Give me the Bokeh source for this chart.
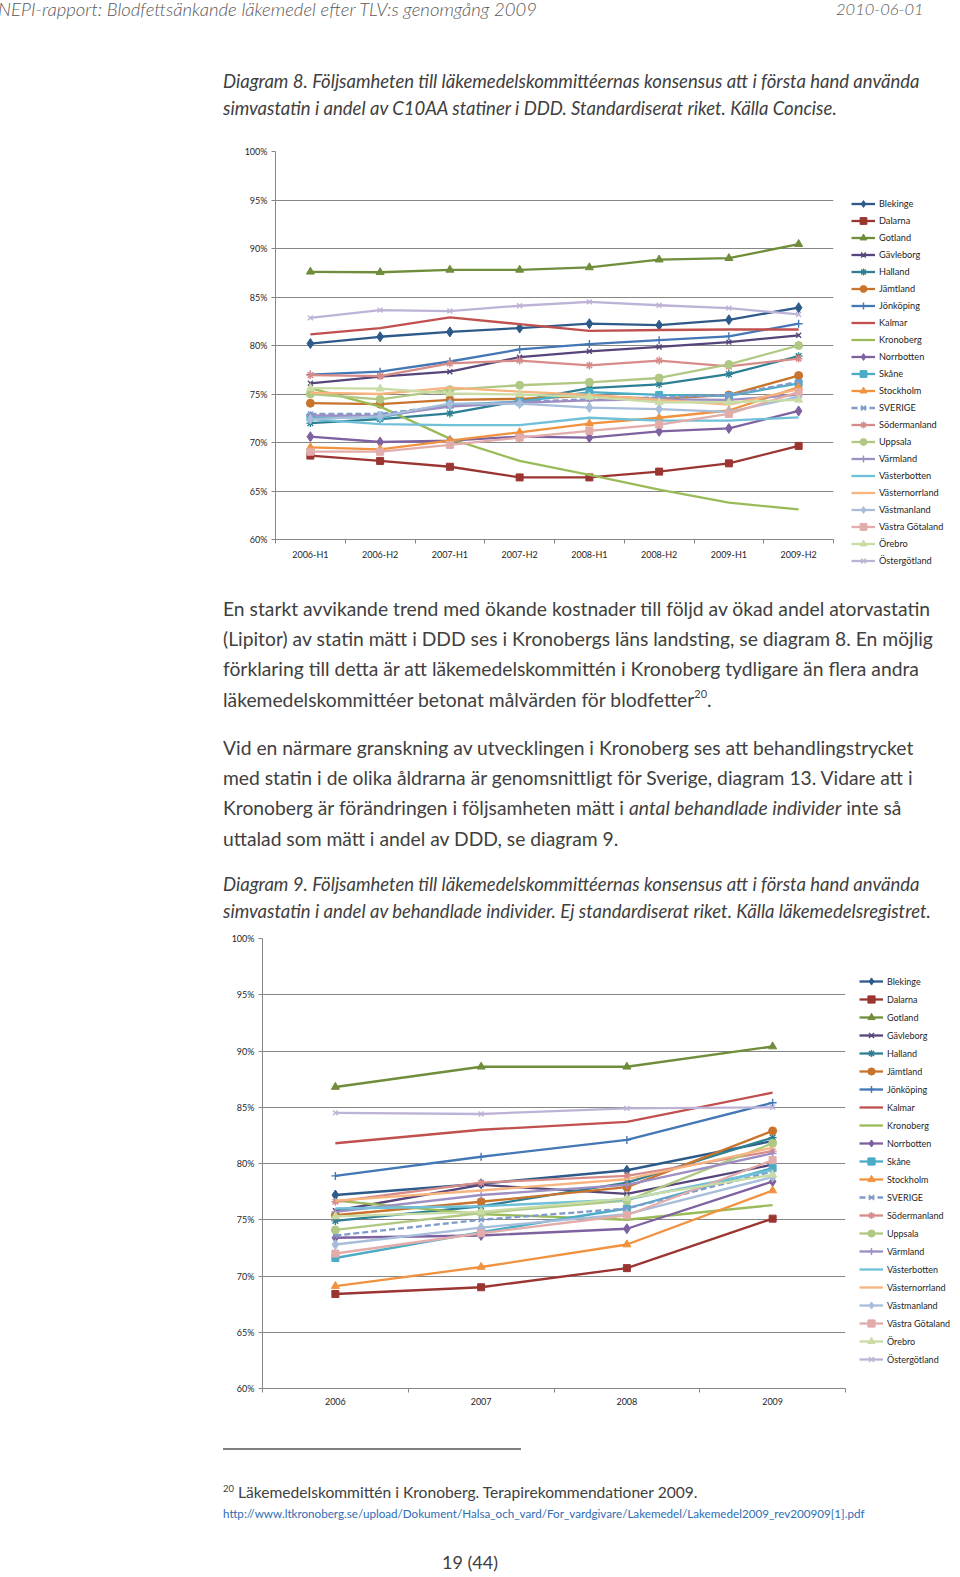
from bokeh.plotting import figure
from bokeh.models import Range1d, FixedTicker, NumeralTickFormatter, Legend, LegendItem, Div
from bokeh.layouts import column
from bokeh.embed import file_html
from bokeh.resources import INLINE

# ---------------- data ----------------
periods = ["2006-H1", "2006-H2", "2007-H1", "2007-H2", "2008-H1", "2008-H2", "2009-H1", "2009-H2"]
years = ["2006", "2007", "2008", "2009"]
counties = ["Blekinge", "Dalarna", "Gotland", "Gävleborg", "Halland", "Jämtland", "Jönköping",
            "Kalmar", "Kronoberg", "Norrbotten", "Skåne", "Stockholm", "SVERIGE", "Södermanland",
            "Uppsala", "Värmland", "Västerbotten", "Västernorrland", "Västmanland",
            "Västra Götaland", "Örebro", "Östergötland"]

# Diagram 8: share of DDD (%), per half-year
d8_blekinge = [80.2, 80.9, 81.4, 81.8, 82.25, 82.1, 82.65, 83.9]
d8_dalarna = [68.65, 68.1, 67.5, 66.4, 66.4, 67.0, 67.85, 69.65]
d8_gotland = [87.6, 87.55, 87.8, 87.8, 88.05, 88.85, 89.0, 90.45]
d8_gavleborg = [76.1, 76.8, 77.3, 78.8, 79.4, 79.85, 80.35, 81.05]
d8_halland = [72.0, 72.4, 73.0, 74.3, 75.6, 76.0, 77.05, 78.9]
d8_jamtland = [74.05, 73.95, 74.4, 74.5, 74.8, 74.5, 74.9, 76.9]
d8_jonkoping = [77.0, 77.3, 78.35, 79.6, 80.15, 80.55, 80.95, 82.25]
d8_kalmar = [81.15, 81.8, 82.9, 82.2, 81.5, 81.6, 81.65, 81.65]
d8_kronoberg = [75.6, 73.7, 70.4, 68.1, 66.65, 65.15, 63.8, 63.1]
d8_norrbotten = [70.6, 70.05, 70.2, 70.6, 70.5, 71.15, 71.45, 73.25]
d8_skane = [72.6, 72.6, 73.9, 74.2, 75.2, 74.9, 74.8, 76.1]
d8_stockholm = [69.5, 69.3, 70.2, 71.05, 71.95, 72.55, 73.3, 75.7]
d8_sverige = [72.95, 72.95, 73.8, 74.2, 74.45, 74.65, 74.9, 76.25]
d8_sodermanland = [76.95, 76.85, 78.15, 78.45, 77.95, 78.45, 77.85, 78.65]
d8_uppsala = [75.0, 74.45, 75.45, 75.9, 76.2, 76.65, 78.05, 80.0]
d8_varmland = [72.8, 72.75, 73.7, 74.1, 74.35, 74.45, 74.4, 74.9]
d8_vasterbotten = [72.4, 71.9, 71.8, 71.8, 72.55, 72.25, 72.25, 72.6]
d8_vasternorrland = [75.15, 75.0, 75.65, 75.25, 74.9, 74.4, 73.9, 75.5]
d8_vastmanland = [72.4, 72.7, 74.0, 74.0, 73.6, 73.45, 73.15, 74.7]
d8_vastra_gotaland = [69.05, 69.05, 69.75, 70.5, 71.2, 71.85, 72.95, 75.2]
d8_orebro = [75.6, 75.55, 75.05, 74.95, 74.7, 74.15, 74.15, 74.4]
d8_ostergotland = [82.85, 83.65, 83.55, 84.1, 84.5, 84.15, 83.85, 83.2]

# Diagram 9: share of treated individuals (%), per year
d9_blekinge = [77.2, 78.2, 79.4, 82.0]
d9_dalarna = [68.4, 69.0, 70.7, 75.1]
d9_gotland = [86.8, 88.6, 88.6, 90.4]
d9_gavleborg = [75.8, 78.1, 77.3, 79.9]
d9_halland = [74.9, 76.2, 78.3, 82.3]
d9_jamtland = [75.4, 76.6, 77.9, 82.9]
d9_jonkoping = [78.9, 80.6, 82.1, 85.4]
d9_kalmar = [81.8, 83.0, 83.7, 86.3]
d9_kronoberg = [76.7, 75.5, 75.0, 76.3]
d9_norrbotten = [73.4, 73.6, 74.2, 78.4]
d9_skane = [71.6, 73.9, 76.0, 79.6]
d9_stockholm = [69.1, 70.8, 72.8, 77.6]
d9_sverige = [73.6, 75.0, 76.0, 79.3]
d9_sodermanland = [76.6, 78.3, 78.9, 81.1]
d9_uppsala = [74.1, 75.6, 76.7, 81.8]
d9_varmland = [75.7, 77.2, 78.1, 80.9]
d9_vasterbotten = [76.0, 76.2, 76.8, 79.4]
d9_vasternorrland = [76.7, 77.6, 78.6, 81.4]
d9_vastmanland = [72.8, 74.3, 75.5, 78.8]
d9_vastra_gotaland = [72.0, 73.8, 75.4, 80.3]
d9_orebro = [75.3, 75.7, 76.9, 79.0]
d9_ostergotland = [84.5, 84.4, 84.9, 85.0]

y_ticks = [0.60, 0.65, 0.70, 0.75, 0.80, 0.85, 0.90, 0.95, 1.00]

d8 = dict(zip(counties, [d8_blekinge, d8_dalarna, d8_gotland, d8_gavleborg, d8_halland, d8_jamtland,
                         d8_jonkoping, d8_kalmar, d8_kronoberg, d8_norrbotten, d8_skane, d8_stockholm,
                         d8_sverige, d8_sodermanland, d8_uppsala, d8_varmland, d8_vasterbotten,
                         d8_vasternorrland, d8_vastmanland, d8_vastra_gotaland, d8_orebro, d8_ostergotland]))
d9 = dict(zip(counties, [d9_blekinge, d9_dalarna, d9_gotland, d9_gavleborg, d9_halland, d9_jamtland,
                         d9_jonkoping, d9_kalmar, d9_kronoberg, d9_norrbotten, d9_skane, d9_stockholm,
                         d9_sverige, d9_sodermanland, d9_uppsala, d9_varmland, d9_vasterbotten,
                         d9_vasternorrland, d9_vastmanland, d9_vastra_gotaland, d9_orebro, d9_ostergotland]))

# ---------------- styles ----------------
colors = {
    "Blekinge": "#2E5A8A", "Dalarna": "#9B3532", "Gotland": "#6F8D3A", "Gävleborg": "#55457A",
    "Halland": "#2D8094", "Jämtland": "#C8742C", "Jönköping": "#4477B5", "Kalmar": "#C0504D",
    "Kronoberg": "#9BBB59", "Norrbotten": "#7E619F", "Skåne": "#4BACC6", "Stockholm": "#F0923F",
    "SVERIGE": "#7F9ACB", "Södermanland": "#D78C89", "Uppsala": "#B0C884", "Värmland": "#9D8FC2",
    "Västerbotten": "#6FC0D8", "Västernorrland": "#F8B47E", "Västmanland": "#A7BDDA",
    "Västra Götaland": "#E2ACAA", "Örebro": "#CADCA5", "Östergötland": "#BDB3D6",
}
markers = {
    "Blekinge": "diamond", "Dalarna": "square", "Gotland": "triangle", "Gävleborg": "x",
    "Halland": "asterisk", "Jämtland": "circle", "Jönköping": "cross", "Kalmar": None,
    "Kronoberg": None, "Norrbotten": "diamond", "Skåne": "square", "Stockholm": "triangle",
    "SVERIGE": "x", "Södermanland": "asterisk", "Uppsala": "circle", "Värmland": "cross",
    "Västerbotten": None, "Västernorrland": None, "Västmanland": "diamond",
    "Västra Götaland": "square", "Örebro": "triangle", "Östergötland": "x",
}
msize = {"diamond": 10, "square": 7, "triangle": 8, "x": 7, "asterisk": 8, "circle": 8, "cross": 8}
FONT = "Lato"
AX = "#868686"
TXT = "#262626"
PAGE_W = 944


def make_chart(cats, data, fw, fh, bl, br, bt, bb, lvx, lvy, item_h, glyph_w, leg_fs):
    xs = list(range(len(cats)))
    p = figure(frame_width=fw, frame_height=fh,
               min_border_left=bl, min_border_right=br,
               min_border_top=bt, min_border_bottom=bb,
               x_range=Range1d(-0.5, len(cats) - 0.5), y_range=Range1d(0.60, 1.00),
               toolbar_location=None, tools="", output_backend="svg")
    p.outline_line_color = None
    p.xgrid.grid_line_color = None
    p.ygrid.ticker = FixedTicker(ticks=y_ticks)
    p.ygrid.grid_line_color = AX
    p.ygrid.grid_line_width = 1

    p.yaxis.ticker = FixedTicker(ticks=y_ticks)
    p.yaxis.formatter = NumeralTickFormatter(format="0%")
    p.yaxis.axis_line_color = AX
    p.yaxis.major_tick_line_color = AX
    p.yaxis.major_tick_out = 4
    p.yaxis.major_tick_in = 0
    p.yaxis.minor_tick_line_color = None
    p.yaxis.major_label_standoff = 4

    p.xaxis.ticker = FixedTicker(ticks=xs, minor_ticks=[i - 0.5 for i in range(len(cats) + 1)])
    p.xaxis.major_label_overrides = {i: c for i, c in zip(xs, cats)}
    p.xaxis.axis_line_color = AX
    p.xaxis.major_tick_line_color = None
    p.xaxis.major_tick_out = 0
    p.xaxis.major_tick_in = 0
    p.xaxis.minor_tick_line_color = AX
    p.xaxis.minor_tick_out = 4
    p.xaxis.minor_tick_in = 0
    p.xaxis.major_label_standoff = 5

    for ax in (p.xaxis, p.yaxis):
        ax.major_label_text_font = FONT
        ax.major_label_text_font_size = "9px"
        ax.major_label_text_color = TXT

    items = []
    for name in counties:
        ys = [v / 100.0 for v in data[name]]
        c = colors[name]
        dash = "6 3" if name == "SVERIGE" else "solid"
        rs = [p.line(xs, ys, line_color=c, line_width=2.3, line_dash=dash, line_join="round")]
        m = markers[name]
        if m:
            lw = 1.4 if m in ("x", "asterisk", "cross") else 1
            rs.append(p.scatter(xs, ys, marker=m, size=msize[m], fill_color=c, line_color=c, line_width=lw))
        items.append(LegendItem(label=name, renderers=rs))

    legend = Legend(items=items, location=(lvx, lvy), orientation="vertical",
                    glyph_width=glyph_w, glyph_height=item_h, label_height=item_h, spacing=0,
                    padding=0, margin=0, label_standoff=4,
                    label_text_font=FONT, label_text_font_size=leg_fs, label_text_color=TXT,
                    border_line_color=None, background_fill_alpha=0)
    p.add_layout(legend, "right")
    return p


fig8 = make_chart(periods, d8, fw=558, fh=388, bl=275, br=112, bt=9, bb=43, lvx=18, lvy=-30,
                  item_h=17, glyph_w=24, leg_fs="9.2px")
fig9 = make_chart(years, d9, fw=596, fh=450, bl=275, br=105, bt=10, bb=30, lvx=14, lvy=20,
                  item_h=18, glyph_w=24, leg_fs="9px")
fig9.margin = (0, 0, 0, -13)

# ---------------- texts ----------------
header = "NEPI-rapport: Blodfettsänkande läkemedel efter TLV:s genomgång 2009"
date = "2010-06-01"
cap8 = ["Diagram 8. Följsamheten till läkemedelskommittéernas konsensus att i första hand använda",
        "simvastatin i andel av C10AA statiner i DDD. Standardiserat riket. Källa Concise."]
para1 = ["En starkt avvikande trend med ökande kostnader till följd av ökad andel atorvastatin",
         "(Lipitor) av statin mätt i DDD ses i Kronobergs läns landsting, se diagram 8. En möjlig",
         "förklaring till detta är att läkemedelskommittén i Kronoberg tydligare än flera andra",
         "läkemedelskommittéer betonat målvärden för blodfetter"]
para2 = ["Vid en närmare granskning av utvecklingen i Kronoberg ses att behandlingstrycket",
         "med statin i de olika åldrarna är genomsnittligt för Sverige, diagram 13. Vidare att i",
         "Kronoberg är förändringen i följsamheten mätt i <i>antal behandlade individer</i> inte så",
         "uttalad som mätt i andel av DDD, se diagram 9."]
cap9 = ["Diagram 9. Följsamheten till läkemedelskommittéernas konsensus att i första hand använda",
        "simvastatin i andel av behandlade individer. Ej standardiserat riket. Källa läkemedelsregistret."]
foot = "Läkemedelskommittén i Kronoberg. Terapirekommendationer 2009."
url = "http://www.ltkronoberg.se/upload/Dokument/Halsa_och_vard/For_vardgivare/Lakemedel/Lakemedel2009_rev200909[1].pdf"
pagenum = "19 (44)"

BASE = "position:absolute;white-space:nowrap;font-family:Lato,sans-serif;"
sup = '<span style="font-size:11px;position:relative;top:-9px;line-height:0;">20</span>'
TL = 218

divA = Div(width=PAGE_W, height=132, text=f'''
<div style="position:relative;width:944px;height:132px;">
<div style="{BASE}left:-7px;top:-6px;font-size:18.5px;line-height:20px;font-style:italic;font-weight:300;color:#595959;">{header}</div>
<div style="{BASE}left:831px;top:-6px;font-size:16.5px;line-height:20px;font-style:italic;font-weight:300;color:#595959;">{date}</div>
<div style="{BASE}left:{TL}px;top:63px;font-size:18.5px;line-height:27px;font-style:italic;color:#404040;">{cap8[0]}<br>{cap8[1]}</div>
</div>''')

divC = Div(width=PAGE_W, height=336, text=f'''
<div style="position:relative;width:944px;height:336px;">
<div style="{BASE}left:{TL}px;top:6.8px;font-size:19.3px;line-height:30.3px;color:#404040;">{"<br>".join(para1)}{sup}.</div>
<div style="{BASE}left:{TL}px;top:145.8px;font-size:19.3px;line-height:30.3px;color:#404040;">{"<br>".join(para2)}</div>
<div style="{BASE}left:{TL}px;top:283.5px;font-size:18.5px;line-height:27px;font-style:italic;color:#404040;">{cap9[0]}<br>{cap9[1]}</div>
</div>''')

divE = Div(width=PAGE_W, height=154, text=f'''
<div style="position:relative;width:944px;height:154px;">
<div style="position:absolute;left:{TL}px;top:25px;width:298px;height:1.5px;background:#808080;"></div>
<div style="{BASE}left:{TL}px;top:60px;font-size:15.6px;line-height:18px;color:#404040;"><span style="font-size:9.5px;position:relative;top:-6px;">20</span> {foot}</div>
<div style="{BASE}left:{TL}px;top:84px;font-size:11.65px;line-height:14px;color:#2E6DB4;">{url}</div>
<div style="{BASE}left:437px;top:129px;font-size:18px;line-height:20px;color:#404040;">{pagenum}</div>
</div>''')

page = column(divA, fig8, divC, fig9, divE, spacing=0)
open("out.html", "w").write(file_html(page, INLINE))
